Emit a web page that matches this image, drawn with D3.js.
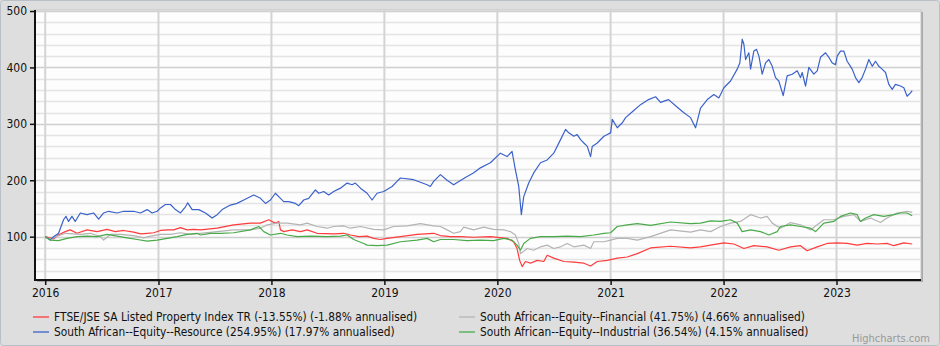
<!DOCTYPE html>
<html><head><meta charset="utf-8">
<script src="https://cdn.jsdelivr.net/npm/d3@7"></script>
<style>body{margin:0;background:#dedede}svg{display:block}</style>
</head><body><svg id="c" width="940" height="346"></svg>
<script>
// ---- data (decimal year, rebased value) ----
const seriesNames = [
  "FTSE/JSE SA Listed Property Index TR (-13.55%) (-1.88% annualised)",
  "South African--Equity--Financial (41.75%) (4.66% annualised)",
  "South African--Equity--Resource (254.95%) (17.97% annualised)",
  "South African--Equity--Industrial (36.54%) (4.15% annualised)"
];
const seriesColors = ["#ff3b3b", "#b4b4b4", "#3b62cc", "#48aa48"];
const yTicks = [100, 200, 300, 400, 500];
const xTickYears = [2016, 2017, 2018, 2019, 2020, 2021, 2022, 2023];

const propertyData = [
[2016.000,100],[2016.071,96],[2016.115,103],[2016.177,109],[2016.221,112],[2016.281,106],[2016.369,112],[2016.458,109],
[2016.546,113],[2016.619,109],[2016.693,111],[2016.781,108],[2016.841,105],[2016.900,106],[2016.958,107],[2017.018,111],
[2017.077,112],[2017.135,112],[2017.195,116],[2017.254,112],[2017.312,113],[2017.372,112],[2017.519,115],[2017.666,121],
[2017.814,124],[2017.903,124],[2017.976,130],[2018.006,127],[2018.035,124],[2018.065,127],[2018.080,112],[2018.109,109],
[2018.183,112],[2018.257,109],[2018.316,112],[2018.404,106],[2018.551,105],[2018.640,106],[2018.699,103],[2018.773,100],
[2018.847,101],[2018.905,97],[2018.965,95],[2019.024,97],[2019.142,100],[2019.289,104],[2019.436,106],[2019.496,102],
[2019.584,100],[2019.673,100],[2019.790,99],[2019.938,100],[2020.086,97],[2020.144,91],[2020.174,79],[2020.197,58],
[2020.219,47],[2020.248,56],[2020.292,53],[2020.351,58],[2020.410,56],[2020.440,67],[2020.498,62],[2020.587,56],
[2020.675,55],[2020.764,53],[2020.823,48],[2020.882,56],[2020.971,58],[2021.059,62],[2021.148,64],[2021.236,70],
[2021.354,80],[2021.531,83],[2021.708,80],[2021.796,82],[2021.885,85],[2022.003,89],[2022.091,87],[2022.180,79],
[2022.268,84],[2022.386,82],[2022.489,76],[2022.593,82],[2022.681,84],[2022.740,75],[2022.829,82],[2022.917,88],
[2023.006,89],[2023.094,88],[2023.183,85],[2023.271,88],[2023.360,87],[2023.448,88],[2023.507,84],[2023.596,89],[2023.670,87]
];

const financialData = [
[2016.000,100],[2016.044,96],[2016.177,106],[2016.310,104],[2016.398,106],[2016.487,100],[2016.516,94],[2016.575,104],
[2016.664,104],[2016.781,102],[2016.870,98],[2016.929,101],[2017.018,104],[2017.106,104],[2017.195,107],[2017.283,104],
[2017.372,106],[2017.519,109],[2017.666,112],[2017.814,112],[2017.903,115],[2017.962,121],[2018.050,124],[2018.139,124],
[2018.257,121],[2018.316,124],[2018.404,118],[2018.493,115],[2018.551,118],[2018.640,119],[2018.699,115],[2018.788,118],
[2018.905,113],[2018.994,112],[2019.082,118],[2019.201,119],[2019.319,123],[2019.436,119],[2019.496,118],[2019.555,112],
[2019.613,106],[2019.673,109],[2019.702,117],[2019.790,112],[2019.879,117],[2019.967,113],[2020.056,112],[2020.115,109],
[2020.159,103],[2020.189,88],[2020.204,70],[2020.227,73],[2020.263,79],[2020.321,76],[2020.381,82],[2020.440,85],
[2020.498,79],[2020.558,82],[2020.617,88],[2020.675,82],[2020.764,85],[2020.823,79],[2020.852,91],[2020.941,91],
[2021.000,94],[2021.059,97],[2021.148,97],[2021.236,94],[2021.354,100],[2021.531,112],[2021.708,108],[2021.796,112],
[2021.885,109],[2021.973,118],[2022.062,124],[2022.150,127],[2022.239,139],[2022.327,133],[2022.386,136],[2022.431,124],
[2022.504,115],[2022.593,125],[2022.681,121],[2022.770,112],[2022.829,121],[2022.888,130],[2022.976,130],[2023.065,136],
[2023.153,139],[2023.212,127],[2023.301,133],[2023.389,125],[2023.448,133],[2023.537,142],[2023.625,145],[2023.670,143]
];

const resourceData = [
[2016.000,100],[2016.044,94],[2016.073,100],[2016.118,106],[2016.162,130],[2016.183,136],[2016.206,127],[2016.236,136],
[2016.265,127],[2016.310,142],[2016.369,139],[2016.427,142],[2016.472,131],[2016.516,142],[2016.560,145],[2016.635,142],
[2016.693,145],[2016.781,145],[2016.841,142],[2016.900,148],[2016.944,142],[2016.988,145],[2017.018,151],[2017.062,157],
[2017.106,157],[2017.150,148],[2017.195,142],[2017.239,153],[2017.259,160],[2017.298,148],[2017.357,148],[2017.416,142],
[2017.475,133],[2017.520,139],[2017.564,148],[2017.637,156],[2017.696,159],[2017.755,165],[2017.843,174],[2017.903,168],
[2017.947,159],[2017.991,165],[2018.035,177],[2018.080,168],[2018.109,162],[2018.153,162],[2018.212,159],[2018.242,155],
[2018.286,165],[2018.330,168],[2018.389,183],[2018.419,177],[2018.463,180],[2018.507,174],[2018.551,180],[2018.611,186],
[2018.670,195],[2018.714,192],[2018.743,195],[2018.788,186],[2018.847,177],[2018.891,165],[2018.935,177],[2018.994,180],
[2019.068,189],[2019.112,198],[2019.142,204],[2019.259,201],[2019.378,192],[2019.407,189],[2019.436,198],[2019.496,210],
[2019.555,200],[2019.613,192],[2019.717,205],[2019.788,213],[2019.850,222],[2019.938,231],[2020.027,248],[2020.086,242],
[2020.130,251],[2020.159,219],[2020.189,189],[2020.212,139],[2020.233,171],[2020.277,195],[2020.321,213],[2020.381,231],
[2020.440,236],[2020.498,248],[2020.558,272],[2020.602,290],[2020.631,284],[2020.675,278],[2020.705,281],[2020.735,272],
[2020.764,266],[2020.794,260],[2020.823,242],[2020.838,260],[2020.882,266],[2020.941,278],[2020.971,281],[2021.000,284],
[2021.015,308],[2021.059,293],[2021.104,302],[2021.133,311],[2021.195,322],[2021.265,334],[2021.336,343],[2021.398,348],
[2021.442,338],[2021.513,343],[2021.575,332],[2021.646,320],[2021.708,311],[2021.752,293],[2021.796,328],[2021.856,343],
[2021.914,352],[2021.958,346],[2022.003,364],[2022.062,376],[2022.121,397],[2022.144,408],[2022.165,450],[2022.180,441],
[2022.195,414],[2022.224,426],[2022.239,397],[2022.268,429],[2022.292,432],[2022.313,420],[2022.342,388],[2022.372,408],
[2022.401,414],[2022.431,402],[2022.460,382],[2022.489,376],[2022.528,350],[2022.563,385],[2022.608,388],[2022.652,394],
[2022.681,382],[2022.696,391],[2022.726,367],[2022.755,400],[2022.799,388],[2022.829,394],[2022.858,418],[2022.903,426],
[2022.932,418],[2022.962,408],[2022.991,405],[2023.006,420],[2023.035,429],[2023.065,429],[2023.094,411],[2023.139,397],
[2023.168,382],[2023.198,373],[2023.227,382],[2023.257,397],[2023.286,414],[2023.316,402],[2023.345,411],[2023.375,402],
[2023.404,397],[2023.434,391],[2023.463,370],[2023.493,361],[2023.522,370],[2023.566,367],[2023.596,364],[2023.625,349],
[2023.655,355],[2023.670,359]
];

const industrialData = [
[2016.000,100],[2016.044,94],[2016.118,93],[2016.192,97],[2016.281,100],[2016.369,101],[2016.458,100],[2016.546,104],
[2016.635,101],[2016.723,98],[2016.812,95],[2016.900,92],[2016.988,94],[2017.077,97],[2017.165,100],[2017.254,104],
[2017.342,106],[2017.372,103],[2017.460,106],[2017.549,106],[2017.666,107],[2017.814,112],[2017.888,118],[2017.932,109],
[2017.991,103],[2018.080,106],[2018.139,103],[2018.227,100],[2018.345,101],[2018.493,100],[2018.611,101],[2018.670,103],
[2018.728,95],[2018.817,88],[2018.847,85],[2018.935,84],[2019.024,85],[2019.142,91],[2019.289,94],[2019.378,97],
[2019.436,91],[2019.496,95],[2019.613,95],[2019.732,93],[2019.850,94],[2019.967,93],[2020.056,97],[2020.130,94],
[2020.174,85],[2020.204,76],[2020.233,88],[2020.292,97],[2020.381,100],[2020.498,100],[2020.617,101],[2020.735,100],
[2020.852,103],[2020.941,106],[2021.000,107],[2021.059,118],[2021.148,121],[2021.236,123],[2021.354,120],[2021.531,126],
[2021.708,123],[2021.796,124],[2021.885,128],[2021.973,127],[2022.062,130],[2022.121,124],[2022.165,109],[2022.239,112],
[2022.327,109],[2022.401,103],[2022.475,109],[2022.504,118],[2022.593,121],[2022.681,118],[2022.770,115],[2022.814,109],
[2022.888,124],[2022.976,127],[2023.035,136],[2023.124,142],[2023.183,139],[2023.212,127],[2023.257,133],[2023.330,139],
[2023.419,136],[2023.507,139],[2023.566,142],[2023.625,142],[2023.670,137]
];

const allSeries = [propertyData, financialData, resourceData, industrialData];

// ---- helpers ----
function toDate(t) {
  const y = Math.floor(t), s = new Date(y, 0, 1), e = new Date(y + 1, 0, 1);
  return new Date(+s + (t - y) * (e - s));
}

const W = 940, H = 346;
const plot = {left: 35, right: 921, top: 10, bottom: 280};
const FONT = "'DejaVu Sans Condensed','DejaVu Sans',sans-serif";

const svg = d3.select("#c");
svg.append("rect").attr("x", 0.5).attr("y", 0.5).attr("width", W - 1).attr("height", H - 1)
  .attr("rx", 3).attr("fill", "#dedede").attr("stroke", "#b9c0c8");

const x = d3.scaleTime().domain([new Date(2015, 10, 29), new Date(2023, 9, 1)]).range([plot.left, plot.right]);
const y = d3.scaleLinear().domain([23.2, 501.8]).range([plot.bottom, plot.top]);

// plot background + shadow
svg.append("rect").attr("x", plot.left + 2).attr("y", plot.top + 2)
  .attr("width", plot.right - plot.left).attr("height", plot.bottom - plot.top).attr("fill", "#a8a8a8");
svg.append("rect").attr("x", plot.left).attr("y", plot.top)
  .attr("width", plot.right - plot.left).attr("height", plot.bottom - plot.top)
  .attr("fill", "#fdfdfd").attr("stroke", "#c4c4c4");

const g = svg.append("g");
const minor = d3.range(40, 501, 20).filter(v => v % 100 !== 0);
g.selectAll(".mg").data(minor).join("line")
  .attr("x1", plot.left).attr("x2", plot.right)
  .attr("y1", d => Math.round(y(d)) + 0.5).attr("y2", d => Math.round(y(d)) + 0.5)
  .attr("stroke", "#e4e4e4").attr("stroke-width", 1.5);
g.selectAll(".Mg").data(yTicks).join("line")
  .attr("x1", plot.left).attr("x2", plot.right)
  .attr("y1", d => Math.round(y(d)) + 0.5).attr("y2", d => Math.round(y(d)) + 0.5)
  .attr("stroke", "#cfcfcf").attr("stroke-width", 1.5);
const xTickDates = xTickYears.map(yr => new Date(yr, 0, 1));
g.selectAll(".vg").data(xTickDates).join("line")
  .attr("x1", d => x(d)).attr("x2", d => x(d))
  .attr("y1", plot.top).attr("y2", plot.bottom)
  .attr("stroke", "#d4d4d4").attr("stroke-width", 2);

// series
const line = d3.line().x(d => x(toDate(d[0]))).y(d => y(d[1]));
svg.append("g").selectAll("path").data(allSeries).join("path")
  .attr("d", line).attr("fill", "none")
  .attr("stroke", (d, i) => seriesColors[i]).attr("stroke-width", 1.2)
  .attr("stroke-linejoin", "round");

// axes
const yAxis = svg.append("g").attr("transform", `translate(${plot.left},0)`)
  .call(d3.axisLeft(y).tickValues(yTicks).tickSize(5).tickPadding(3));
const xAxis = svg.append("g").attr("transform", `translate(0,${plot.bottom})`)
  .call(d3.axisBottom(x).tickValues(xTickDates).tickFormat(d3.timeFormat("%Y")).tickSize(5).tickPadding(3));
[yAxis, xAxis].forEach(a => {
  a.select(".domain").attr("stroke", "#111").attr("stroke-width", 2);
  a.selectAll(".tick line").attr("stroke", "#111").attr("stroke-width", 1.5);
  a.selectAll("text").attr("font-family", FONT).attr("font-size", 12).attr("fill", "#111");
});
yAxis.select(".domain").attr("d", `M0,${plot.top}V${plot.bottom + 1}`);
xAxis.select(".domain").attr("d", `M${plot.left - 1},0H${plot.right}`);

// legend
const legendPos = [[33, 317], [459, 317], [33, 332], [459, 332]];
const lg = svg.append("g").selectAll("g").data(seriesNames).join("g")
  .attr("transform", (d, i) => `translate(${legendPos[i][0]},${legendPos[i][1]})`);
lg.append("line").attr("x1", 0).attr("x2", 16).attr("y1", 0).attr("y2", 0)
  .attr("stroke", (d, i) => seriesColors[i]).attr("stroke-width", 2).attr("stroke-opacity", 0.65);
lg.append("text").attr("x", 21).attr("y", 4).text(d => d)
  .attr("font-family", FONT).attr("font-size", 11.8).attr("fill", "#111");

svg.append("text").attr("x", 930).attr("y", 342).attr("text-anchor", "end")
  .attr("font-family", FONT).attr("font-size", 11).attr("fill", "#999").text("Highcharts.com");
</script></body></html>
